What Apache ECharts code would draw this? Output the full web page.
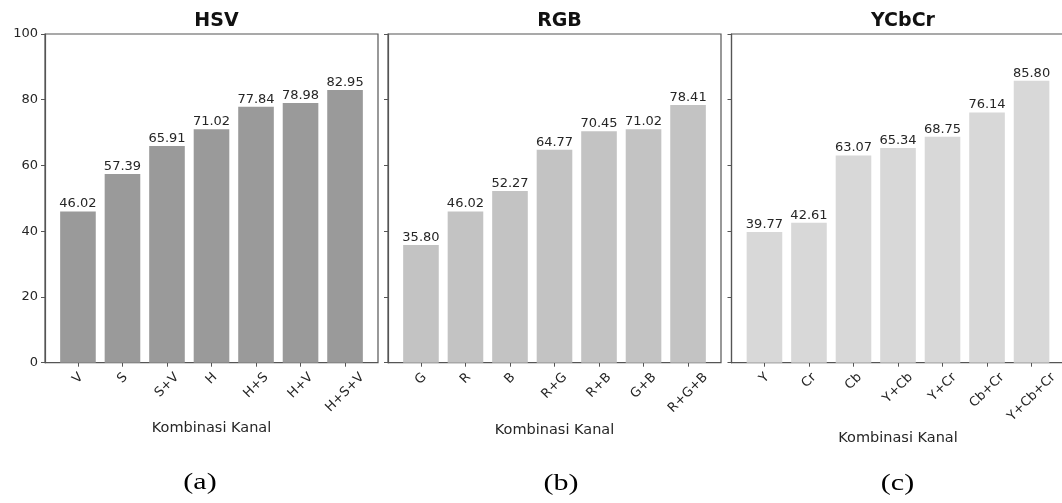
<!DOCTYPE html>
<html>
<head>
<meta charset="utf-8">
<script src="https://cdn.jsdelivr.net/npm/echarts@6/dist/echarts.min.js"></script>
<style>
html,body{margin:0;padding:0;background:#fff;}
#c{width:1062px;height:503px;}
</style>
</head>
<body>
<div id="c"></div>
<script>
const titles = ['HSV', 'RGB', 'YCbCr'];
const captions = ['(a)', '(b)', '(c)'];
const hsvCats = ['V', 'S', 'S+V', 'H', 'H+S', 'H+V', 'H+S+V'];
const hsvVals = [46.02, 57.39, 65.91, 71.02, 77.84, 78.98, 82.95];
const rgbCats = ['G', 'R', 'B', 'R+G', 'R+B', 'G+B', 'R+G+B'];
const rgbVals = [35.80, 46.02, 52.27, 64.77, 70.45, 71.02, 78.41];
const ycbcrCats = ['Y', 'Cr', 'Cb', 'Y+Cb', 'Y+Cr', 'Cb+Cr', 'Y+Cb+Cr'];
const ycbcrVals = [39.77, 42.61, 63.07, 65.34, 68.75, 76.14, 85.80];
const yTicks = [0, 20, 40, 60, 80, 100];
const xName = 'Kombinasi Kanal';

(function () {
const catsList = [hsvCats, rgbCats, ycbcrCats];
const valsList = [hsvVals, rgbVals, ycbcrVals];
const barColors = ['#9a9a9a', '#c3c3c3', '#d8d8d8'];
const frameLeft = [45, 388, 731.5];
const frameW = 333;
const plotTop = 34, plotH = 328.7;
const inset = 10.7;
const nameGaps = [58, 60, 68];
const capPos = [[200, 483], [561, 484], [897.5, 484]];
const FONT = '"DejaVu Sans", sans-serif';
const TXT = '#262626';
const fs = 13, lh = 15;

const cv = document.createElement('canvas').getContext('2d');
cv.font = fs + 'px "DejaVu Sans"';
function tw(s){ return cv.measureText(s).width; }

const grid = [], xAxis = [], yAxis = [], series = [], title = [], graphic = [];
for (let i = 0; i < 3; i++) {
  const L = frameLeft[i];
  grid.push({left: L, top: plotTop, width: frameW, height: plotH, show: true,
    borderColor: '#555', borderWidth: 1.2, backgroundColor: 'transparent',
    containLabel: false, outerBoundsMode: 'none'});
  grid.push({left: L + inset, top: plotTop, width: frameW - 2 * inset, height: plotH,
    containLabel: false, outerBoundsMode: 'none'});
  xAxis.push({type: 'value', gridIndex: 2 * i, show: false, min: 0, max: 1});
  xAxis.push({
    type: 'category', gridIndex: 2 * i + 1,
    data: catsList[i].map(c => {
      const w = tw(c);
      return {value: c, textStyle: {align: 'center', verticalAlign: 'top',
        padding: [w / 4, w / 2 + lh, 0, 0]}};
    }),
    boundaryGap: true,
    axisLine: {show: false},
    axisTick: {show: true, alignWithLabel: true, length: 4, inside: false,
      lineStyle: {color: '#555', width: 1}},
    axisLabel: {interval: 0, rotate: 45, margin: 2, fontSize: fs, lineHeight: lh,
      color: TXT, fontFamily: FONT, hideOverlap: false},
    splitLine: {show: false},
    name: xName, nameLocation: 'middle', nameGap: nameGaps[i], nameMoveOverlap: false,
    nameTextStyle: {fontSize: 14.5, color: TXT, fontFamily: FONT}
  });
  yAxis.push({
    type: 'value', gridIndex: 2 * i, min: yTicks[0], max: yTicks[yTicks.length - 1],
    interval: yTicks[1] - yTicks[0],
    axisLine: {show: true, lineStyle: {color: '#555', width: 1.2}},
    axisTick: {show: true, length: 4, inside: false, lineStyle: {color: '#555'}},
    axisLabel: {show: i === 0, fontSize: fs, color: TXT, fontFamily: FONT, margin: 7},
    splitLine: {show: false}
  });
  yAxis.push({type: 'value', gridIndex: 2 * i + 1, min: 0, max: 100, show: false,
    splitLine: {show: false}});
  series.push({
    type: 'bar', xAxisIndex: 2 * i + 1, yAxisIndex: 2 * i + 1,
    data: valsList[i], barCategoryGap: '20%',
    itemStyle: {color: barColors[i]},
    label: {show: true, position: 'top', distance: 1,
      formatter: p => p.value.toFixed(2), fontSize: fs, color: TXT, fontFamily: FONT},
    silent: true, animation: false
  });
  title.push({text: titles[i], left: L + frameW / 2, top: 7, textAlign: 'center',
    textStyle: {fontSize: 19, fontWeight: 'bold', color: '#111', fontFamily: FONT}});
  graphic.push({type: 'text', x: capPos[i][0], y: capPos[i][1], scaleX: 1.25,
    style: {text: captions[i], font: '24px "Liberation Serif", serif', fill: '#000',
      align: 'center', verticalAlign: 'middle'}});
}

const chart = echarts.init(document.getElementById('c'), null, {renderer: 'canvas'});
chart.setOption({animation: false, backgroundColor: '#fff', title, grid, xAxis, yAxis, series, graphic});
})();
</script>
</body>
</html>
